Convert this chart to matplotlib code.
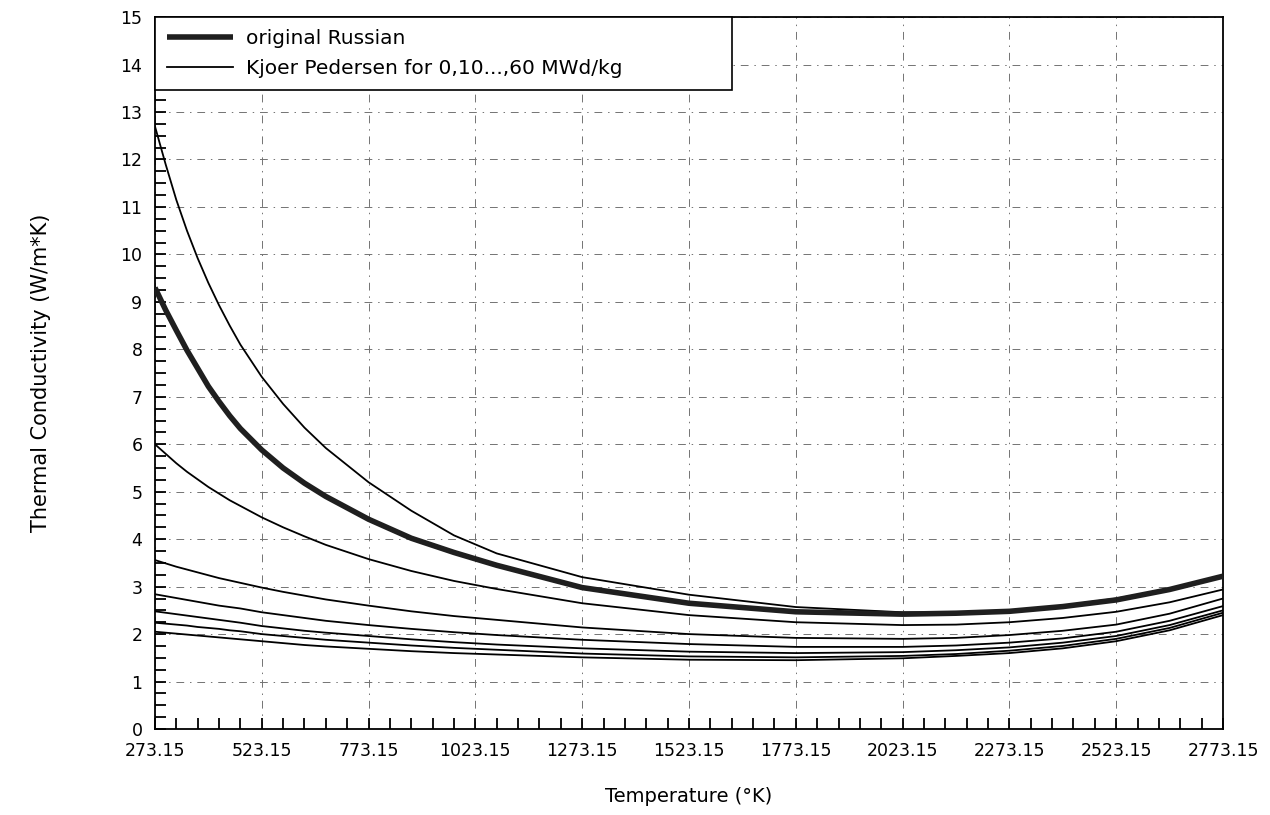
import numpy as np
import matplotlib
matplotlib.use('Agg')
import matplotlib.pyplot as plt
from matplotlib.ticker import MultipleLocator

plt.rcParams['font.family'] = ['DejaVu Sans']

temp = [273.15, 298.15, 323.15, 348.15, 373.15, 398.15, 423.15, 448.15, 473.15,
        523.15, 573.15, 623.15, 673.15, 773.15, 873.15, 973.15, 1073.15,
        1273.15, 1523.15, 1773.15, 2023.15, 2148.15, 2273.15, 2398.15,
        2523.15, 2648.15, 2773.15]

# original Russian correlation
russian = [9.3, 8.83, 8.4, 7.98, 7.6, 7.22, 6.9, 6.6, 6.33,
           5.88, 5.5, 5.18, 4.9, 4.42, 4.02, 3.72, 3.45,
           2.98, 2.65, 2.47, 2.42, 2.44, 2.48, 2.58, 2.72, 2.94, 3.22]

# Kjaer Pedersen, burnup 0,10,...,60 MWd/kg
kp_0 = [12.7, 11.9, 11.15, 10.5, 9.92, 9.4, 8.93, 8.5, 8.1,
        7.42, 6.85, 6.35, 5.92, 5.2, 4.6, 4.08, 3.7,
        3.2, 2.83, 2.57, 2.46, 2.46, 2.5, 2.6, 2.75, 2.95, 3.22]
kp_10 = [6.0, 5.8, 5.6, 5.42, 5.26, 5.1, 4.96, 4.82, 4.7,
         4.46, 4.25, 4.06, 3.88, 3.58, 3.33, 3.12, 2.95,
         2.65, 2.4, 2.25, 2.19, 2.2, 2.25, 2.34, 2.47, 2.67, 2.94]
kp_20 = [3.56, 3.49, 3.42, 3.36, 3.3, 3.24, 3.18, 3.13, 3.08,
         2.98, 2.89, 2.81, 2.73, 2.6, 2.48, 2.38, 2.3,
         2.14, 2.0, 1.92, 1.9, 1.92, 1.98, 2.07, 2.2, 2.43, 2.75]
kp_30 = [2.84, 2.8, 2.76, 2.72, 2.68, 2.64, 2.6, 2.57, 2.54,
         2.46, 2.4, 2.34, 2.28, 2.19, 2.11, 2.04, 1.98,
         1.88, 1.79, 1.73, 1.73, 1.76, 1.82, 1.91, 2.05, 2.28, 2.59]
kp_40 = [2.48, 2.45, 2.42, 2.39, 2.36, 2.33, 2.3, 2.27, 2.24,
         2.17, 2.12, 2.07, 2.03, 1.96, 1.89, 1.83, 1.78,
         1.7, 1.63, 1.6, 1.62, 1.66, 1.72, 1.82, 1.96, 2.19, 2.5]
kp_50 = [2.24, 2.22, 2.2, 2.18, 2.15, 2.13, 2.11, 2.08, 2.06,
         2.0, 1.96, 1.92, 1.88, 1.82, 1.76, 1.71, 1.67,
         1.59, 1.53, 1.51, 1.54, 1.58, 1.65, 1.75, 1.9, 2.13, 2.45]
kp_60 = [2.05, 2.03, 2.01, 1.99, 1.97, 1.95, 1.93, 1.91, 1.89,
         1.85, 1.81, 1.77, 1.74, 1.69, 1.64, 1.6, 1.57,
         1.51, 1.46, 1.45, 1.49, 1.54, 1.6, 1.7, 1.85, 2.08, 2.4]

xticks = [273.15 + 250 * i for i in range(11)]
xlabels = ['%.2f' % t for t in xticks]

fig = plt.figure(figsize=(12.7, 8.15), dpi=100)
ax = fig.add_axes([0.122, 0.1055, 0.841, 0.8735])

# curves
for kp in [kp_60, kp_50, kp_40, kp_30, kp_20, kp_10]:
    ax.plot(temp, kp, color='black', lw=1.3)
ax.plot(temp, kp_0, color='black', lw=1.3,
        label='Kjoer Pedersen for 0,10...,60 MWd/kg')
ax.plot(temp, russian, color='0.12', lw=4.0, solid_capstyle='butt',
        label='original Russian', zorder=3)

ax.set_xlim(273.15, 2773.15)
ax.set_ylim(0, 15)
ax.set_xticks(xticks)
ax.set_xticklabels(xlabels)
ax.xaxis.set_minor_locator(MultipleLocator(50, offset=23.15))
ax.yaxis.set_major_locator(MultipleLocator(1))
ax.yaxis.set_minor_locator(MultipleLocator(0.25))
ax.tick_params(which='both', direction='in', top=False, right=False,
               labelsize=12.5, width=1.3, pad=9)
ax.tick_params(which='major', length=8)
ax.tick_params(which='minor', length=8)
for s in ax.spines.values():
    s.set_linewidth(1.3)

ax.grid(True, which='major', color='0.45', lw=0.7, linestyle=(0, (8, 6, 1.5, 6)))

ax.set_xlabel('Temperature (°K)', fontsize=14)
ax.xaxis.set_label_coords(0.5, -0.082)
ax.set_ylabel('Thermal Conductivity (W/m*K)', fontsize=15)
ax.yaxis.set_label_coords(-0.097, 0.5)

h, l = ax.get_legend_handles_labels()
leg = ax.legend(h[::-1], l[::-1], loc='upper left', bbox_to_anchor=(0, 0, 0.54, 1),
                mode='expand', borderaxespad=0, fancybox=False, framealpha=1,
                edgecolor='black', fontsize=14.5, handlelength=3.3,
                labelspacing=0.55, borderpad=0.6, handletextpad=0.6)
leg.get_frame().set_linewidth(1.2)

fig.savefig('out.png', dpi=100)
